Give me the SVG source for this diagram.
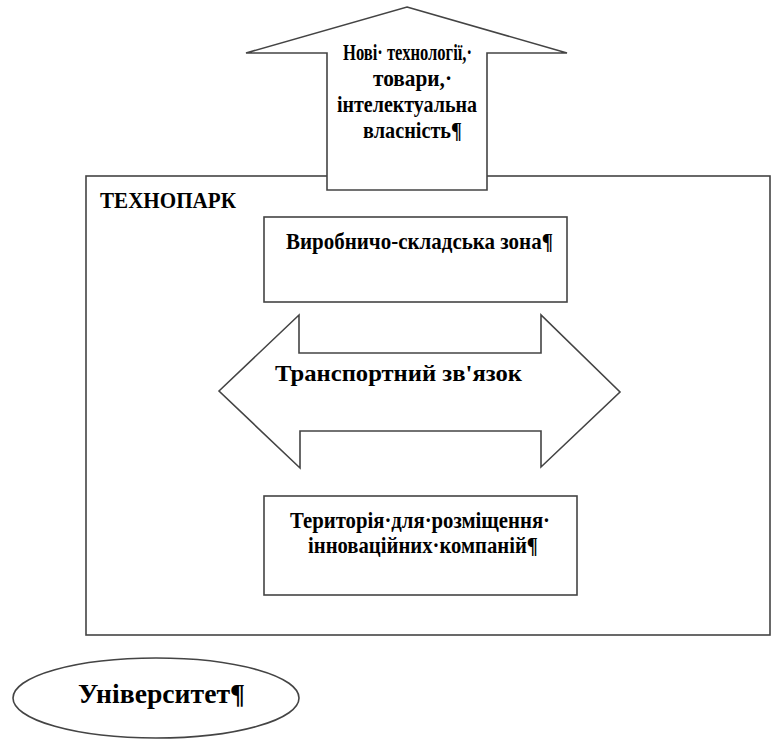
<svg xmlns="http://www.w3.org/2000/svg" width="772" height="740" viewBox="0 0 772 740">
  <style>
    .shape { fill: #ffffff; stroke: #444444; stroke-width: 1.6; }
    .t { font-family: "Liberation Serif", "Times New Roman", serif; font-weight: bold; fill: #000000; }
  </style>
  <rect x="0" y="0" width="772" height="740" fill="#ffffff"/>
  <g id="technopark">
    <rect class="shape" x="86" y="176" width="684" height="459"/>
    <text class="t" x="100" y="208" font-size="24" textLength="136" lengthAdjust="spacingAndGlyphs">ТЕХНОПАРК</text>
  </g>
  <g id="output-arrow">
    <polygon class="shape" points="407,7 567,53 487,53 487,190 327,190 327,53 246,53"/>
    <text class="t" x="343" y="60" font-size="23" textLength="129" lengthAdjust="spacingAndGlyphs">Нові· технології,·</text>
    <text class="t" x="373" y="86" font-size="23" textLength="79" lengthAdjust="spacingAndGlyphs">товари,·</text>
    <text class="t" x="337" y="112" font-size="23" textLength="140" lengthAdjust="spacingAndGlyphs">інтелектуальна</text>
    <text class="t" x="363" y="138" font-size="23" textLength="99" lengthAdjust="spacingAndGlyphs">власність¶</text>
  </g>
  <g id="production-zone">
    <rect class="shape" x="264" y="217" width="303" height="85"/>
    <text class="t" x="286" y="249" font-size="24" textLength="267" lengthAdjust="spacingAndGlyphs">Виробничо-складська зона¶</text>
  </g>
  <g id="connectors">
    <polygon class="shape" points="219,391 299,315 299,353 541,353 541,315 620,392 541,467 541,431 300,431 300,468"/>
    <text class="t" x="275" y="381" font-size="24" textLength="247" lengthAdjust="spacingAndGlyphs">Транспортний зв'язок</text>
  </g>
  <g id="innovation-territory">
    <rect class="shape" x="264" y="496" width="313" height="99"/>
    <text class="t" x="290" y="528" font-size="24" textLength="260" lengthAdjust="spacingAndGlyphs">Територія·для·розміщення·</text>
    <text class="t" x="308" y="553" font-size="24" textLength="230" lengthAdjust="spacingAndGlyphs">інноваційних·компаній¶</text>
  </g>
  <g id="university">
    <ellipse class="shape" cx="156" cy="698" rx="143" ry="40"/>
    <text class="t" x="78" y="703" font-size="28" textLength="167" lengthAdjust="spacingAndGlyphs">Університет¶</text>
  </g>
</svg>
